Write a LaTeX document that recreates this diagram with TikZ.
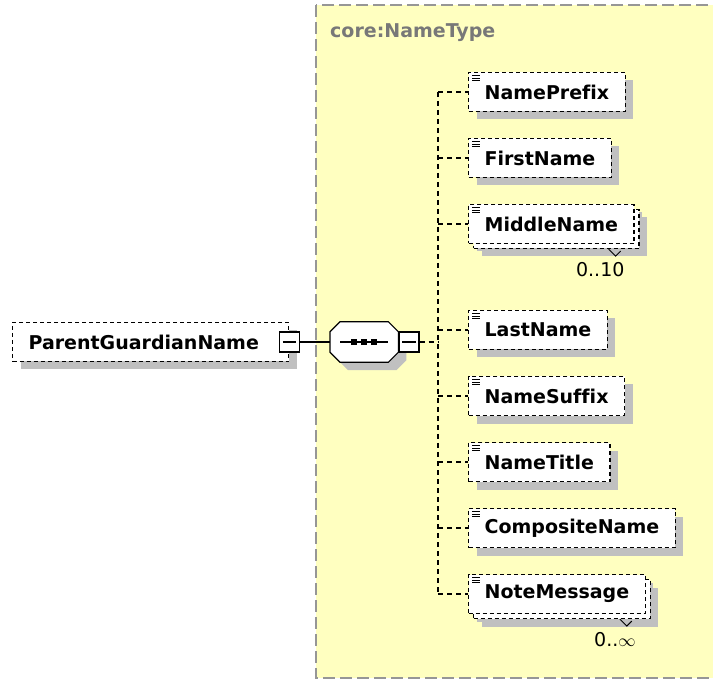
\documentclass[tikz,border=0pt]{standalone}
\usepackage{fontspec}
\setmainfont{DejaVu Sans}[Ligatures=NoCommon]
\usetikzlibrary{positioning,shadows,calc}

\definecolor{typefill}{RGB}{255,255,192}
\definecolor{typeline}{RGB}{150,150,150}
\definecolor{shadowgray}{RGB}{192,192,192}

\begin{document}
\begin{tikzpicture}[
    x=1pt, y=-1pt,
    every node/.style={font=\fontsize{19}{22}\selectfont},
    elem/.style={draw, line width=1.2pt, dash pattern=on 4pt off 3pt, fill=white,
        font=\fontsize{19}{22}\selectfont\bfseries, minimum height=39pt,
        inner xsep=16pt, inner ysep=0pt, anchor=west,
        drop shadow={shadow xshift=8pt, shadow yshift=-8pt, fill=shadowgray, opacity=1}},
    multi/.style={drop shadow={shadow xshift=13pt, shadow yshift=-13pt, fill=shadowgray, opacity=1},
        copy shadow={shadow xshift=5pt, shadow yshift=-5pt, draw=black, line width=1.2pt,
            dash pattern=on 4pt off 3pt, fill=white}},
    seqbox/.style={minimum width=68pt, minimum height=40pt, inner sep=0pt, anchor=west},
    minusbox/.style={draw, line width=1.2pt, fill=white, minimum size=20pt, inner sep=0pt},
    link/.style={line width=1.2pt},
    dlink/.style={line width=1.2pt, dash pattern=on 5pt off 4pt},
    occurs/.style={anchor=north east, inner sep=0pt}
]
\path[use as bounding box, clip] (0,0) rectangle (713,679);

% complex type area
\draw[typeline, fill=typefill, line width=2pt, dash pattern=on 12pt off 5pt]
    (316,5) rectangle (740,678);
\node[anchor=west, text=typeline!80!black, font=\fontsize{19}{22}\selectfont\bfseries,
    inner sep=0pt] (typename) at (330,33) {core:NameType};

% root element and sequence
\node[elem] (parent) at (12,342) {ParentGuardianName\hspace*{14pt}};
\node[minusbox] (pm1) at (parent.east) {};
\node[seqbox] (seq) at (330,342) {};
\foreach \o/\c/\d in {8/shadowgray/none, 0/white/black}
    \path[fill=\c, draw=\d, line width=1.2pt]
        ($(seq.north west)+(\o+10,\o)$) -- ($(seq.north east)+(\o-10,\o)$)
        -- ($(seq.north east)+(\o,\o+10)$) -- ($(seq.south east)+(\o,\o-10)$)
        -- ($(seq.south east)+(\o-10,\o)$) -- ($(seq.south west)+(\o+10,\o)$)
        -- ($(seq.south west)+(\o,\o-10)$) -- ($(seq.north west)+(\o,\o+10)$) -- cycle;
\node[minusbox, anchor=west] (pm2) at (seq.east) {};
\coordinate (bus) at (438,342);

% child elements
\node[elem] (prefix) at (468,92) {NamePrefix};
\node[elem] (first) at (468,158) {FirstName};
\node[elem, multi] (middle) at (468,224) {MiddleName};
\node[elem] (last) at (468,330) {LastName};
\node[elem] (suffix) at (468,396) {NameSuffix};
\node[elem] (title) at (468,462) {NameTitle};
\node[elem] (composite) at (468,528) {CompositeName};
\node[elem, multi] (note) at (468,594) {NoteMessage};

\node[occurs] (middleocc) at ($(middle.south east)+(-10,18)$) {0..10};
\node[occurs] (noteocc) at ($(note.south east)+(-10,18)$) {0..\(\infty\)};

% minus signs and sequence glyph
\foreach \b in {pm1,pm2}
    \draw[line width=1.2pt] ([xshift=4pt]\b.west) -- ([xshift=-4pt]\b.east);
\draw[line width=1.2pt] ([xshift=10pt]seq.west) -- ([xshift=-10pt]seq.east);
\foreach \dx in {-10,0,10}
    \fill ([xshift=\dx pt]seq.center) +(-3,-3) rectangle +(3,3);

% simple content icons
\foreach \c in {prefix,first,middle,last,suffix,title,composite,note}
    \foreach \dy in {4,6.5,9}
        \draw[line width=0.9pt] ([shift={(4,\dy)}]\c.north west) -- +(8,0);

% occurrence ticks
\foreach \c in {middle,note}
    \draw[line width=1pt] ([shift={(-26,5)}]\c.south east) -- +(7,7) -- +(12,2);

% connectors
\draw[link] (pm1.east) -- (seq.west);
\draw[dlink] (pm2.east) -- (bus);
\draw[dlink] (bus |- prefix.west) -- (bus |- note.west);
\foreach \c in {prefix,first,middle,last,suffix,title,composite,note}
    \draw[dlink] (bus |- \c.west) -- (\c.west);
\end{tikzpicture}
\end{document}
